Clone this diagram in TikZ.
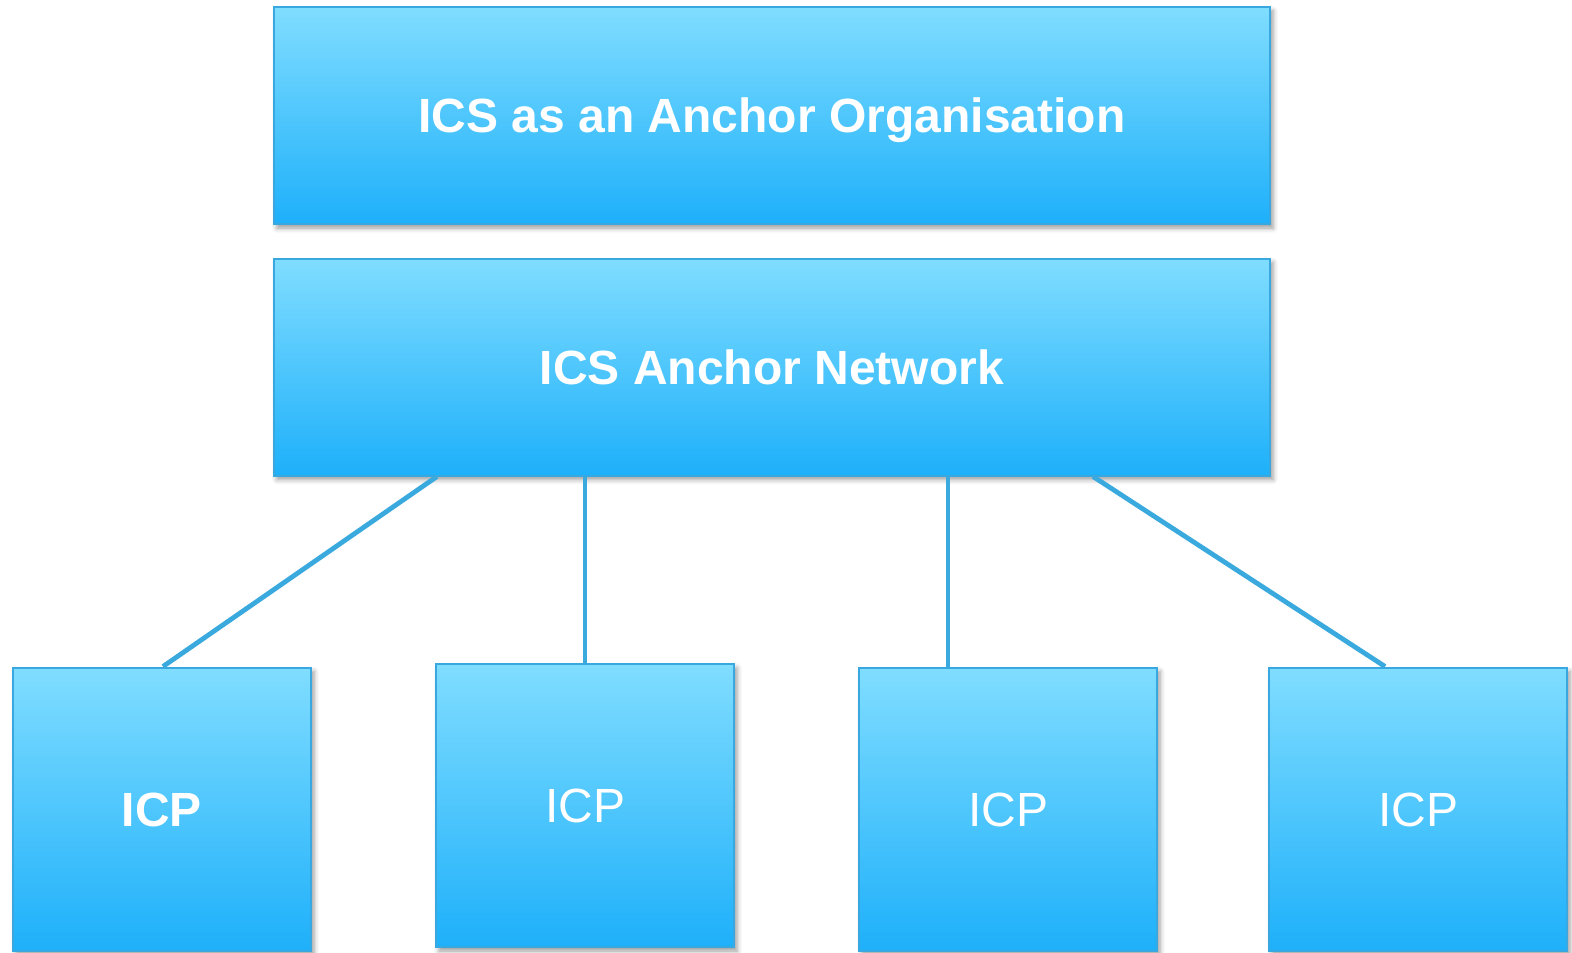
\documentclass[tikz,border=0pt]{standalone}
\usepackage{fontspec}
\setmainfont{Liberation Sans}
\usetikzlibrary{positioning, shadows.blur}

\definecolor{boxtop}{RGB}{128,221,255}
\definecolor{boxbottom}{RGB}{30,176,250}
\definecolor{boxedge}{RGB}{58,168,224}
\definecolor{linkblue}{RGB}{58,170,222}

\begin{document}
\begin{tikzpicture}[
    x=0.5pt, y=-0.5pt,
    block/.style={rectangle, draw=boxedge, line width=1pt, top color=boxtop, bottom color=boxbottom, text=white, font=\fontsize{24}{28}\selectfont\bfseries, text height=17.2pt, text depth=0pt, align=center, blur shadow={shadow xshift=1.5pt, shadow yshift=-2pt, shadow blur radius=2.5pt, shadow opacity=40}},
    wide/.style={block, minimum width=498pt, minimum height=108.5pt},
    member/.style={block, minimum width=149pt, minimum height=141.5pt},
    plain/.style={font=\fontsize{24}{28}\selectfont\mdseries},
    link/.style={draw=linkblue, line width=2.4pt}
]
\useasboundingbox (0,0) rectangle (1572,952);

% Anchor organisation and network
\node[wide] (org) at (772,115.5) {ICS as an Anchor Organisation};
\node[wide] (net) at (772,367) {ICS Anchor Network};

% Member partners
\node[member] (icp1) at (162,809) {ICP};
\node[member, plain] (icp2) at (585,805.5) {ICP};
\node[member, plain] (icp3) at (1008,809) {ICP};
\node[member, plain] (icp4) at (1418,809) {ICP};

% Links from the network down to the partners
\path[link] ([xshift=-167.5pt]net.south) -- ([xshift=0.5pt]icp1.north);
\path[link] ([xshift=-93.5pt]net.south) -- (icp2.north);
\path[link] ([xshift=88pt]net.south) -- ([xshift=-30pt]icp3.north);
\path[link] ([xshift=160.5pt]net.south) -- ([xshift=-16.5pt]icp4.north);

\end{tikzpicture}
\end{document}
